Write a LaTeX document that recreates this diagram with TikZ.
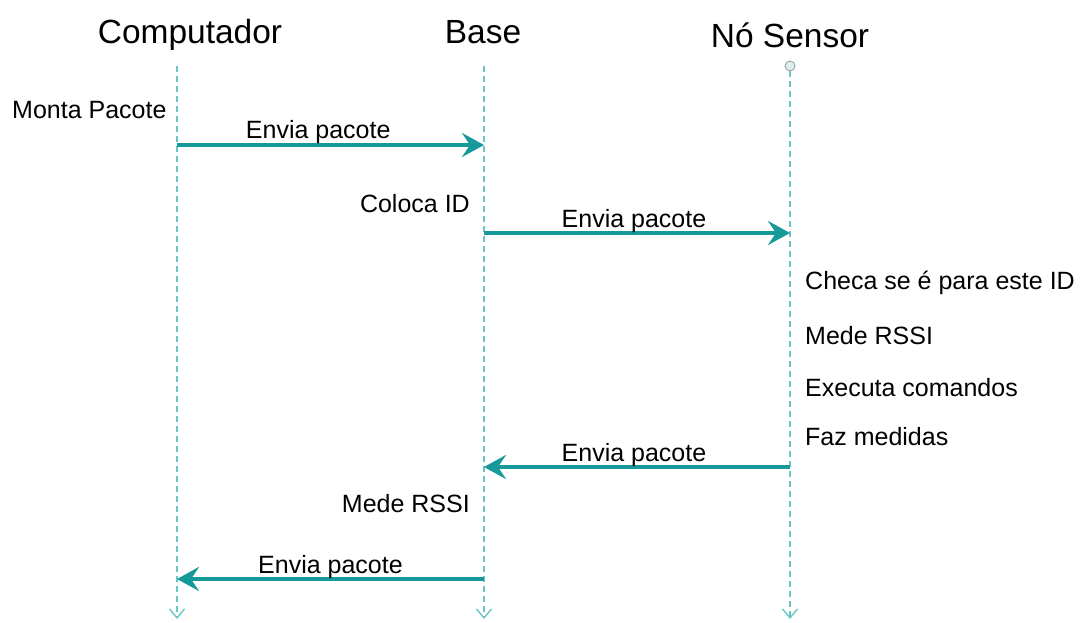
\documentclass[tikz,border=0pt]{standalone}
\usepackage{fontspec}
\setmainfont{Liberation Sans}
\usepackage{xcolor}
\usetikzlibrary{positioning,calc,arrows.meta}
\definecolor{msgteal}{HTML}{17999A}
\definecolor{lifeteal}{HTML}{6CC5C5}

\begin{document}
\begin{tikzpicture}[x=1pt, y=-1pt,
    title/.style={font=\fontsize{33.5}{36}\selectfont, inner sep=0pt},
    note/.style={font=\fontsize{25}{28}\selectfont, inner sep=0pt},
    lifeline/.style={draw=lifeteal, line width=1.3pt, dash pattern=on 6pt off 4pt, -{Straight Barb[length=9pt, width=15pt, line width=1.4pt]}},
    message/.style={draw=msgteal, line width=4pt, -{Stealth[length=22pt, width=24pt, inset=8pt]}}]
    \useasboundingbox (0,0) rectangle (1085,623);
    % titles
    \node[title] (comp) at (190,35) {Computador};
    \node[title] (base) at (483,32) {Base};
    \node[title] (sens) at (790,35) {Nó Sensor};
    % lifelines
    \coordinate (comptop) at (177,66);
    \coordinate (compbot) at (177,619);
    \coordinate (basetop) at (484,66);
    \coordinate (basebot) at (484,619);
    \coordinate (senstop) at (790,66);
    \coordinate (sensbot) at (790,619);
    \draw[lifeline] (comptop) -- (compbot);
    \draw[lifeline] (basetop) -- (basebot);
    \draw[lifeline] ($(senstop)+(0,5)$) -- (sensbot);
    \draw[draw=gray!70, fill=lifeteal!25, line width=1pt] (senstop) circle (5pt);
    % messages
    \coordinate (c1) at (177,145);
    \coordinate (b1) at (484,145);
    \coordinate (b2) at (484,233);
    \coordinate (s2) at (790,233);
    \coordinate (s3) at (790,467);
    \coordinate (b3) at (484,467);
    \coordinate (b4) at (484,579);
    \coordinate (c4) at (177,579);
    \draw[message] (c1) -- node[note, pos=0.46, yshift=13pt] {Envia pacote} (b1);
    \draw[message] (b2) -- node[note, pos=0.49, yshift=12pt] {Envia pacote} (s2);
    \draw[message] (s3) -- node[note, pos=0.51, yshift=12pt] {Envia pacote} (b3);
    \draw[message] (b4) -- node[note, pos=0.5, yshift=12pt] {Envia pacote} (c4);
    % actions
    \node[note, anchor=west] (monta) at (12,110) {Monta Pacote};
    \node[note, anchor=east] (coloca) at (470,204) {Coloca ID};
    \node[note, anchor=west] (checa) at (805,283) {Checa se é para este ID};
    \node[note, anchor=west] (mede1) at (805,336) {Mede RSSI};
    \node[note, anchor=west] (exec) at (805,388) {Executa comandos};
    \node[note, anchor=west] (faz) at (805,437) {Faz medidas};
    \node[note, anchor=east] (mede2) at (470,504) {Mede RSSI};
\end{tikzpicture}
\end{document}
